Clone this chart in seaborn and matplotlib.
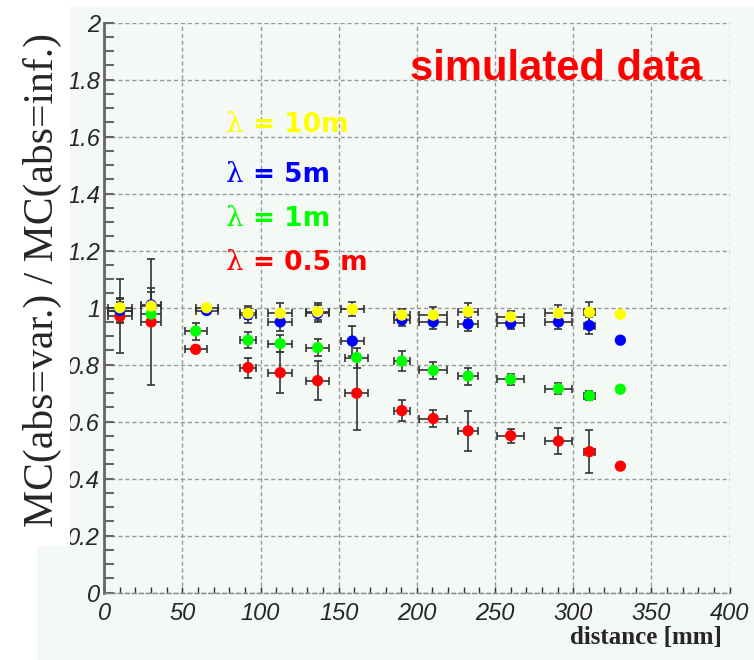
import numpy as np
import pandas as pd
import matplotlib
matplotlib.use("Agg")
import matplotlib.pyplot as plt
from matplotlib.patches import Rectangle
from matplotlib.ticker import MultipleLocator
import seaborn as sns

# distance [mm]; red/green and blue/yellow sit at slightly different x in places
x_low = [10, 30, 58.5, 92, 112.6, 136.5, 161.5, 190.4, 210.5, 232.8, 260, 290.6, 310.4, 330.2]
x_high = [10, 30, 65.5, 92, 112.6, 136.5, 158.7, 190.4, 210.5, 232.8, 260, 290.6, 310.4, 330.2]
x_err = [7.5, 6.5, 7.0, 5.0, 7.5, 7.5, 7.5, 5.3, 9.0, 6.4, 8.5, 8.7, 3.4, 0]

# MC(abs=var.) / MC(abs=inf.)
y_10m = [1.0, 1.006, 1.0, 0.98, 0.98, 0.986, 0.995, 0.974, 0.974, 0.986, 0.968, 0.98, 0.984, 0.977]
e_10m = [0.02, 0.05, 0.01, 0.02, 0.035, 0.03, 0.025, 0.02, 0.03, 0.03, 0.02, 0.03, 0.035, 0]
y_5m = [0.99, 1.01, 0.99, 0.975, 0.95, 0.98, 0.883, 0.957, 0.95, 0.943, 0.945, 0.95, 0.937, 0.886]
e_5m = [0.045, 0.06, 0.01, 0.03, 0.03, 0.03, 0.053, 0.02, 0.025, 0.025, 0.02, 0.025, 0.03, 0]
y_1m = [0.99, 0.978, 0.918, 0.886, 0.874, 0.86, 0.825, 0.813, 0.78, 0.76, 0.749, 0.716, 0.691, 0.714]
e_1m = [0.04, 0.03, 0.03, 0.028, 0.03, 0.03, 0.035, 0.036, 0.03, 0.03, 0.02, 0.02, 0.015, 0]
y_05m = [0.97, 0.95, 0.854, 0.79, 0.772, 0.744, 0.70, 0.639, 0.611, 0.568, 0.551, 0.532, 0.495, 0.444]
e_05m = [0.13, 0.22, 0.01, 0.035, 0.071, 0.069, 0.13, 0.036, 0.03, 0.071, 0.025, 0.047, 0.075, 0]

series = ["0.5 m", "1m", "5m", "10m"]
colors = ["#ff0000", "#00ff00", "#0000ff", "#ffff00"]
label_y = [1.132, 1.287, 1.442, 1.6175]

frames = []
for name, xs, ys, es in [("0.5 m", x_low, y_05m, e_05m), ("1m", x_low, y_1m, e_1m),
                         ("5m", x_high, y_5m, e_5m), ("10m", x_high, y_10m, e_10m)]:
    frames.append(pd.DataFrame({"distance": xs, "ratio": ys, "yerr": es,
                                "xerr": x_err, "series": name}))
df = pd.concat(frames, ignore_index=True)

sns.set_style("white")
tint = "#f4f9f6"
grey = "#666666"

fig = plt.figure(figsize=(7.54, 6.6), dpi=100)
fig.patch.set_facecolor("white")
fig.patches.append(Rectangle((37 / 754, 0), 1 - 37 / 754, 1 - 6 / 660,
                             transform=fig.transFigure, facecolor=tint,
                             edgecolor="none", zorder=-1))
ax = fig.add_axes([104.2 / 754, 1 - 592.7 / 660, 625.3 / 754, 570 / 660])
ax.set_facecolor(tint)

# error bars behind the markers
for name in series:
    d = df[(df.series == name) & (df.yerr > 0)]
    ax.errorbar(d.distance, d.ratio, xerr=d.xerr, yerr=d.yerr, fmt="none",
                ecolor="#333333", elinewidth=1.2, capsize=2.8, capthick=1.2, zorder=2)

sns.scatterplot(data=df, x="distance", y="ratio", hue="series", hue_order=series,
                palette=colors, s=66, edgecolor="none", legend=False, ax=ax, zorder=3)

ax.set_xlim(0, 400)
ax.set_ylim(0, 2)
ax.xaxis.set_major_locator(MultipleLocator(50))
ax.xaxis.set_minor_locator(MultipleLocator(10))
ax.yaxis.set_major_locator(MultipleLocator(0.2))
ax.yaxis.set_minor_locator(MultipleLocator(0.05))
ax.yaxis.set_major_formatter(plt.FuncFormatter(lambda v, p: f"{v:g}"))
ax.grid(True, which="major", color="#999999", linestyle=(0, (3, 2)), linewidth=1.0)
ax.set_axisbelow(True)

for s in ["top", "right"]:
    ax.spines[s].set_visible(False)
ax.spines["left"].set_color(grey)
ax.spines["left"].set_linewidth(2)
ax.spines["bottom"].set_color("#888888")
ax.spines["bottom"].set_linewidth(1)
ax.spines["bottom"].set_linestyle((0, (3, 2)))

ax.tick_params(axis="y", which="both", direction="in", length=7.5, width=1.5,
               color=grey, left=True, pad=3)
ax.tick_params(axis="x", which="both", direction="in", length=4.5, width=1,
               color="#333333", bottom=True, pad=7)
for lab in ax.get_xticklabels() + ax.get_yticklabels():
    lab.set_fontfamily("Liberation Sans")
    lab.set_fontstyle("italic")
    lab.set_fontsize(17)
ax.set_xlabel("")
ax.set_ylabel("")

ax.text(195.5, 1.799, "simulated data", color="#ff0000", fontsize=30,
        fontweight="bold", family="Liberation Sans", va="baseline", ha="left")
for name, col, yy in zip(series, colors, label_y):
    ax.text(77.9, yy, "λ", color=col, fontsize=20, family="DejaVu Serif",
            va="baseline", ha="left")
    ax.text(95.5, yy, "= " + name, color=col, fontsize=19,
            fontweight="bold", family="DejaVu Sans", va="baseline", ha="left")

fig.text(722 / 754, 1 - 644 / 660, "distance [mm]", ha="right", va="baseline",
         fontsize=18, fontweight="bold", family="Liberation Serif")

# white box behind the y label, covering the leading digits of the tick labels
fig.patches.append(Rectangle((0, 1 - 546 / 660), 70 / 754, 546 / 660,
                             transform=fig.transFigure, facecolor="white",
                             edgecolor="none", zorder=5))
t = fig.text(42 / 754, 1 - 280 / 660, "MC(abs=var.) / MC(abs=inf.)", rotation=90,
             ha="center", va="center", fontsize=30, family="Liberation Serif")
t.set_zorder(6)

fig.savefig("out.png", dpi=100, facecolor=fig.get_facecolor())
